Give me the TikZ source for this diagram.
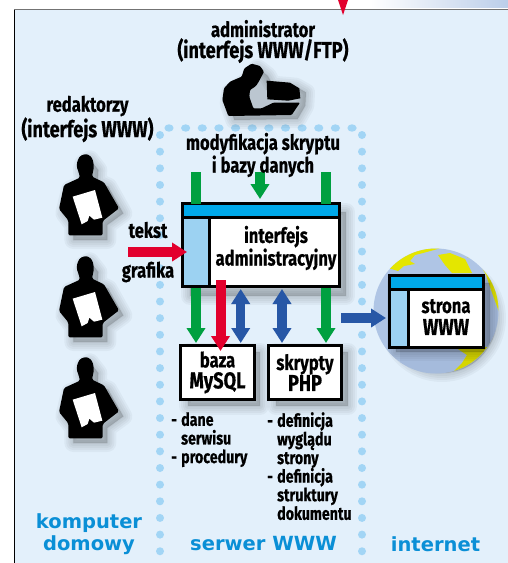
\documentclass[tikz,border=0pt]{standalone}
\usepackage{fontspec}
\usetikzlibrary{arrows.meta}
\newfontfamily\cond[FakeStretch=0.79,FakeBold=0.5]{Fira Sans}
\newfontfamily\wide{DejaVu Sans}
\newcommand\bigline{\fontsize{23}{21}\selectfont}
\definecolor{bgblue}{HTML}{E3F0FB}
\definecolor{dotblue}{HTML}{A2D5F5}
\definecolor{hdrblue}{HTML}{00A9EA}
\definecolor{sideblue}{HTML}{9CD2F2}
\definecolor{titleblue}{HTML}{0A8FD6}
\definecolor{agreen}{HTML}{00A040}
\definecolor{ared}{HTML}{E2002D}
\definecolor{ablue}{HTML}{2757A6}
\definecolor{globeblue}{HTML}{AFC5E5}
\definecolor{globedark}{HTML}{93A9CC}
\definecolor{globeyellow}{HTML}{E4E600}
\definecolor{yellowdark}{HTML}{D6D600}
\newcommand\softshadow[1]{%
  \foreach \w in {18,14,10,6,2}{\path[fill=black,draw=black,opacity=.035,line width=\w pt,line join=round] #1;}}
\tikzset{
  x=1pt,y=-1pt,
  lbl/.style={font=\cond\bfseries\fontsize{21}{21}\selectfont,align=center,inner sep=0,text=black},
  small/.style={font=\cond\bfseries\fontsize{18}{18.6}\selectfont,align=left,inner sep=0,anchor=north west,text=black},
  zone/.style={font=\wide\bfseries\fontsize{19.5}{22}\selectfont,align=center,inner sep=0,text=titleblue},
  winbox/.style={draw=black,line width=3pt,fill=white,outer sep=0,inner sep=0,minimum width=#1},
  hdr/.style={draw=black,line width=3pt,fill=hdrblue,outer sep=0,inner sep=0},
  side/.style={draw=black,line width=3pt,fill=sideblue,outer sep=0,inner sep=0},
  garrow/.style={draw=agreen,line width=9.5pt,-{Triangle[length=15pt,width=18pt,fill=agreen]}},
  gstem/.style={draw=agreen,line width=9.5pt},
  rarrow/.style={draw=ared,line width=10pt,-{Triangle[length=15pt,width=18pt,fill=ared]}},
  barrow/.style={draw=ablue,line width=9.5pt,-{Triangle[length=15pt,width=18pt,fill=ablue]}},
  bbarrow/.style={draw=ablue,line width=9.5pt,{Triangle[length=15pt,width=18pt,fill=ablue]}-{Triangle[length=15pt,width=18pt,fill=ablue]}},
  person/.pic={
    \begin{scope}[scale=1/3]
      \begin{scope}[shift={(15,15)}]
      \softshadow{(105,28)--(85,40)--(80,62)--(88,100)--(45,118)--(28,190)--(55,225)--(55,270)--(157,270)--(157,225)--(205,190)--(160,110)--(128,95)--(130,60)--cycle}
      \end{scope}
      \fill[black,rounded corners=1.5pt] (105,27)--(90,33)--(82,48)--(80,65)--(86,82)--(90,98)--(42,120)--(27,192)--(55,226)--(55,271)--(158,271)--(158,228)--(207,190)--(162,112)--(126,95)--(132,65)--(128,42)--(118,30)--cycle;
      \fill[white] (68,155)--(135,135)--(157,218)--(132,224)--(118,212)--(113,228)--(95,238)--cycle;
    \end{scope}
  },
  admin/.pic={
    \begin{scope}[scale=1/3]
      \begin{scope}[shift={(18,12)}]
      \softshadow{(125,12)--(95,50)--(42,85)--(38,120)--(55,168)--(245,165)--(268,125)--(270,85)--(240,68)--(170,62)--(155,35)--cycle}
      \end{scope}
      \fill[black,rounded corners=1pt] (125,11)--(103,25)--(95,50)--(60,65)--(42,85)--(37,120)--(55,168)--(245,165)--(270,128)--(190,128)--(155,145)--(130,145)--(118,110)--(120,90)--(138,78)--(148,62)--(162,35)--(150,18)--cycle;
      \fill[black] (170,62)--(240,68)--(268,85)--(271,115)--(235,122)--(172,118)--cycle;
    \end{scope}
  }
}
\begin{document}
\begin{tikzpicture}
\useasboundingbox (0,0) rectangle (508,563);
% page frame
\shade[left color=white,right color=globeblue!85!white] (370,0) rectangle (508,7);
\fill[bgblue] (15,10) rectangle (508,563);
\draw[black!55,line width=1.6pt] (14,9.5) -- (508,9.5);
\draw[black,line width=1pt] (14.5,9.5) -- (14.5,563);
\fill[ared] (338,0) -- (348,0) -- (343,15) -- cycle;
% dotted zones
\foreach \i in {0,...,11}{\fill[dotblue] (169+\i*16.64,128) ellipse [x radius=4.6,y radius=3.7];}
\foreach \i in {0,...,25}{\fill[dotblue] (160,135+\i*16.65) circle (4);}
\foreach \i in {0,...,25}{\fill[dotblue] (362,135+\i*16.65) circle (4);}
% people
\pic (p1) at (50,145) {person};
\pic (p2) at (50,247) {person};
\pic (p3) at (50,348) {person};
\pic (adm) at (210,60) {admin};
% shadows of boxes
\softshadow{(190,212) rectangle (346,296)}
\softshadow{(188,352) rectangle (260,406)}
\softshadow{(276,352) rectangle (348,406)}
% globe
\softshadow{(442,318) circle (55)}
\fill[globeblue] (436,311) circle (62.5);
\begin{scope}
  \clip (436,311) circle (62.5);
  \fill[globedark,opacity=.35] (400,290) -- (508,290) -- (508,380) -- (400,380) -- cycle;
  % top-left land
  \fill[globeyellow] (385,267)--(385,243)--(445,237)--(445,247)--(423,253)--(415,255)--(410,261)--(415,264)--(404,266)--(398,271)--cycle;
  \fill[globeyellow] (438,255)--(450,253)--(465,259)--(472,273)--(452,273)--(445,265)--cycle;
  % right rim land
  \fill[globeyellow] (467,257)--(478,261)--(486,275)--(491,290)--(499,312)--(510,312)--(510,250)--cycle;
  % bottom land
  \fill[yellowdark] (455,347)--(467,355)--(462,363)--(452,373)--(452,385)--(505,385)--(505,347)--cycle;
\end{scope}
\begin{scope}
  \clip (436,311) circle (62.5);
  \softshadow{(396,283) rectangle (490,352)}
\end{scope}
% administration window
\node[winbox=157pt,minimum height=83pt,anchor=north west] (iface) at (182.5,203.5) {};
\node[hdr,minimum width=157pt,minimum height=14pt,anchor=north west] (ifhdr) at (182.5,203.5) {};
\node[side,minimum width=27pt,minimum height=69pt,anchor=north west] (ifside) at (182.5,217.5) {};
\node[lbl] (iftext) at (276,248) {interfejs\\administracyjny};
% database and scripts
\node[winbox=74pt,minimum height=54pt,anchor=north west] (baza) at (180.5,345.5) {};
\node[lbl] at (baza.center) (bazat) {baza\\{\bigline MySQL}};
\node[winbox=73pt,minimum height=54pt,anchor=north west] (skr) at (268.5,345.5) {};
\node[lbl] at (skr.center) (skrt) {skrypty\\{\bigline PHP}};
% www window in the globe
\node[winbox=94pt,minimum height=72pt,anchor=north west] (www) at (389.5,275) {};
\node[hdr,minimum width=94pt,minimum height=14pt,anchor=north west] (wwwhdr) at (389.5,275) {};
\node[side,minimum width=19pt,minimum height=58pt,anchor=north west] (wwwside) at (389.5,289) {};
\node[lbl,font=\cond\bfseries\fontsize{21}{22}\selectfont] (wwwt) at (446,317) {strona\\{\fontsize{23}{22}\selectfont WWW}};
% connector anchors
\coordinate (g1) at (196,172);
\coordinate (g2) at (260,172);
\coordinate (g3) at (326,172);
\coordinate (rin) at (128,252);
\coordinate (xr) at (220.5,280);
\coordinate (xb1) at (240.7,289);
\coordinate (xb2) at (282,289);
\coordinate (g4) at (196,288);
\coordinate (g5) at (326,288);
\coordinate (bout) at (341,318);
% arrows
\draw[gstem] (g1) -- (g1 |- iface.north);
\draw[garrow] (g2) -- ([yshift=4.5pt]g2 |- iface.north);
\draw[gstem] (g3) -- (g3 |- iface.north);
\draw[garrow] (g4) -- ([yshift=2.5pt]g4 |- baza.north);
\draw[garrow] (g5) -- ([yshift=2.5pt]g5 |- skr.north);
\draw[rarrow] (xr) -- ([yshift=-5.5pt]xr |- baza.north);
\draw[bbarrow] (xb1) -- ([yshift=2.5pt]xb1 |- baza.north);
\draw[bbarrow] (xb2) -- ([yshift=2.5pt]xb2 |- skr.north);
\draw[barrow] (bout) -- ([xshift=-3.5pt]bout -| www.west);
\draw[rarrow] (rin) -- ([xshift=4.5pt]rin -| ifside.west);
% labels
\node[lbl] (admt) at (263,41.5) {administrator\\{\bigline (interfejs WWW/FTP)}};
\node[lbl] (redt) at (87.5,119) {redaktorzy\\{\bigline (interfejs WWW)}};
\node[lbl] (modt) at (263,155) {modyfikacja skryptu\\i bazy danych};
\node[lbl] (tekst) at (148,230) {tekst};
\node[lbl] (grafika) at (148,272) {grafika};
\node[small] (l1) at (171,412) {\makebox[10pt][l]{-}dane\\\hspace*{10pt}serwisu\\\makebox[10pt][l]{-}procedury};
\node[small] (l2) at (267,412) {\makebox[10pt][l]{-}definicja\\\hspace*{10pt}wyglądu\\\hspace*{10pt}strony\\\makebox[10pt][l]{-}definicja\\\hspace*{10pt}struktury\\\hspace*{10pt}dokumentu};
\node[zone] (z1) at (89,534) {komputer\\domowy};
\node[zone] (z2) at (263.5,544) {serwer WWW};
\node[zone] (z3) at (435.5,544) {internet};
\end{tikzpicture}
\end{document}
